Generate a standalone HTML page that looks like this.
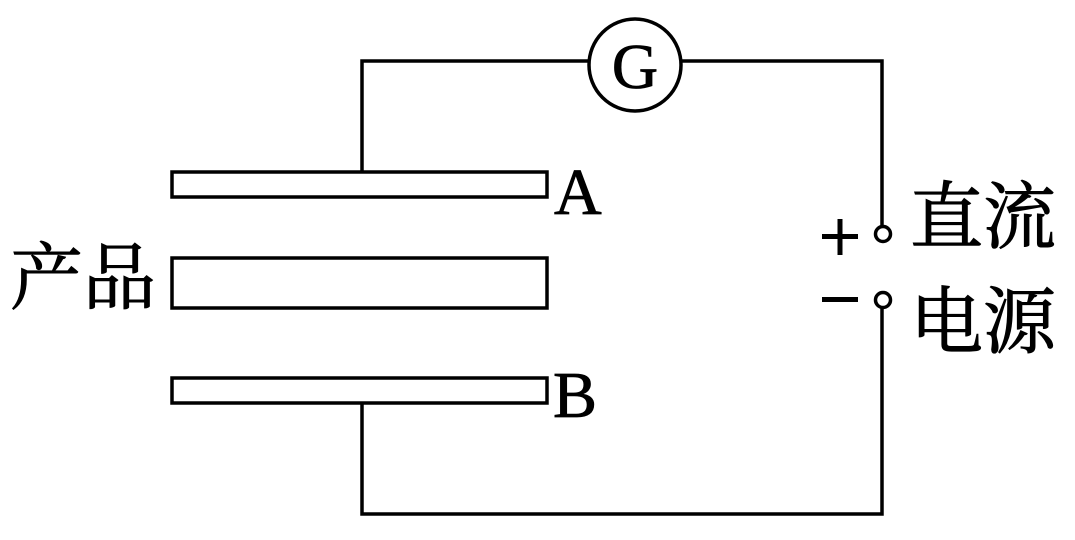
<!DOCTYPE html>
<html><head><meta charset="utf-8"><style>
html,body{margin:0;padding:0;background:#fff;width:1075px;height:540px;overflow:hidden}
</style></head><body>
<svg width="1075" height="540" viewBox="0 0 1075 540" xmlns="http://www.w3.org/2000/svg">
<g fill="none" stroke="#000" stroke-width="3.5">
<polyline points="362,172 362,61 589,61"/>
<polyline points="681,61 882,61 882,226"/>
<polyline points="882,308 882,514 362,514 362,403"/>
<circle cx="635" cy="65" r="46"/>
<circle cx="883" cy="234" r="7.5"/>
<circle cx="883" cy="300" r="7.5"/>
<rect x="172" y="172" width="375" height="25"/>
<rect x="172" y="258" width="375" height="50"/>
<rect x="172" y="378" width="375" height="25"/>
</g>
<g font-family="Liberation Serif, serif" fill="#000" stroke="#000" stroke-width="0.8">
<text x="635" y="88" font-size="64" text-anchor="middle">G</text>
<text x="554" y="214" font-size="66">A</text>
<text x="553" y="417" font-size="66">B</text>
</g>
<g fill="#000">
<rect x="822" y="234" width="36" height="5"/>
<rect x="837.5" y="219" width="5" height="36"/>
<rect x="822" y="297" width="36" height="5"/>
</g>
<g font-family="'Liberation Serif','Noto Serif CJK SC',serif" font-size="73" fill="#000" stroke="#000" stroke-width="1">
<text x="910" y="242">直流</text>
<text x="910" y="347">电源</text>
<text x="10" y="303">产品</text>
</g>
</svg>
</body></html>
